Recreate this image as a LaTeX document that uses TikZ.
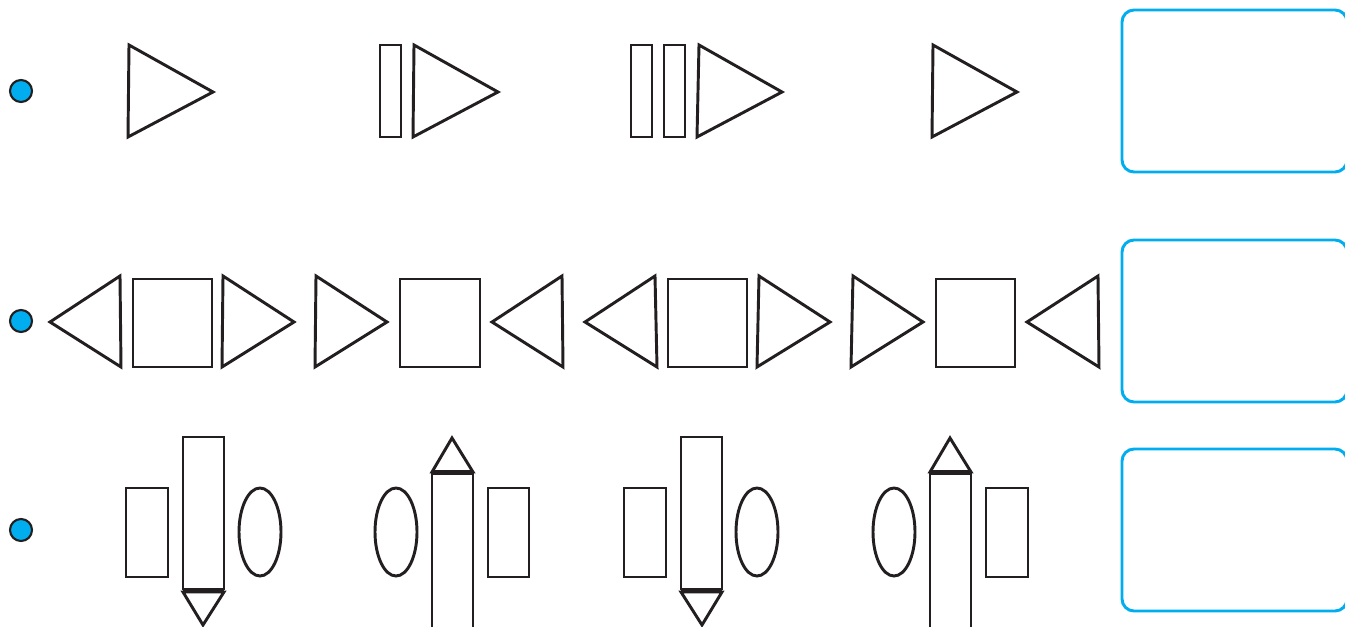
\documentclass[tikz,border=0pt]{standalone}
\usepackage{xcolor}
\usepackage{tikz}
\definecolor{mycyan}{RGB}{0,174,239}
\definecolor{myblack}{RGB}{35,31,32}
\tikzstyle{outline} = [draw=myblack, line width=2.2pt, line join=miter]
\tikzstyle{markdot} = [draw=myblack, fill=mycyan, line width=1.6pt]
\tikzstyle{answerbox} = [draw=mycyan, line width=2.2pt, rounded corners=9pt]
\tikzstyle{band} = [fill=myblack]
\begin{document}
\begin{tikzpicture}[x=0.75pt, y=-0.75pt]
\clip (0,0) rectangle (1345,627);
\fill[white] (0,0) rectangle (1345,627);

\foreach \ypos in {91, 321, 530}
  \draw[markdot] (21,\ypos) circle (11);

\draw[answerbox] (1122,10) rectangle (1347,172);
\draw[answerbox] (1122,240) rectangle (1347,402);
\draw[answerbox] (1122,449) rectangle (1347,611);

\draw[outline] (129,45) -- (128,137) -- (213,92) -- cycle;
\draw[outline] (380,45) rectangle (401,137);
\draw[outline] (414,45) -- (413,137) -- (498,92) -- cycle;
\draw[outline] (631,45) rectangle (652,137);
\draw[outline] (664,45) rectangle (685,137);
\draw[outline] (699,45) -- (697,137) -- (782,92) -- cycle;
\draw[outline] (933,45) -- (932,137) -- (1017,92) -- cycle;

\draw[outline] (50,322) -- (120,276) -- (121,367) -- cycle;
\draw[outline] (133,279) rectangle (212,367);
\draw[outline] (223,276) -- (222,367) -- (294,322) -- cycle;
\draw[outline] (316,276) -- (315,367) -- (387,322) -- cycle;
\draw[outline] (400,279) rectangle (480,367);
\draw[outline] (492,322) -- (562,276) -- (563,367) -- cycle;
\draw[outline] (585,322) -- (655,276) -- (657,367) -- cycle;
\draw[outline] (668,279) rectangle (747,367);
\draw[outline] (759,276) -- (757,367) -- (830,322) -- cycle;
\draw[outline] (853,276) -- (851,367) -- (923,322) -- cycle;
\draw[outline] (936,279) rectangle (1015,367);
\draw[outline] (1027,322) -- (1098,276) -- (1099,367) -- cycle;

\draw[outline] (126,488) rectangle (168,577);
\draw[outline] (183,437) rectangle (224,589);
\fill[band] (183,588) rectangle (224,593);
\draw[outline] (183,592) -- (224,592) -- (203,625) -- cycle;
\draw[outline] (260,532) ellipse (21 and 44);

\draw[outline] (396,532) ellipse (21 and 44);
\draw[outline] (432,474) rectangle (473,640);
\fill[band] (432,470) rectangle (473,475);
\draw[outline] (432,472) -- (473,472) -- (452,438) -- cycle;
\draw[outline] (488,488) rectangle (529,577);

\draw[outline] (624,488) rectangle (666,577);
\draw[outline] (681,437) rectangle (722,589);
\fill[band] (681,588) rectangle (722,593);
\draw[outline] (681,592) -- (722,592) -- (702,625) -- cycle;
\draw[outline] (757,532) ellipse (21 and 44);

\draw[outline] (894,532) ellipse (21 and 44);
\draw[outline] (930,474) rectangle (971,640);
\fill[band] (930,470) rectangle (971,475);
\draw[outline] (930,472) -- (971,472) -- (950,438) -- cycle;
\draw[outline] (986,488) rectangle (1028,577);
\end{tikzpicture}
\end{document}
